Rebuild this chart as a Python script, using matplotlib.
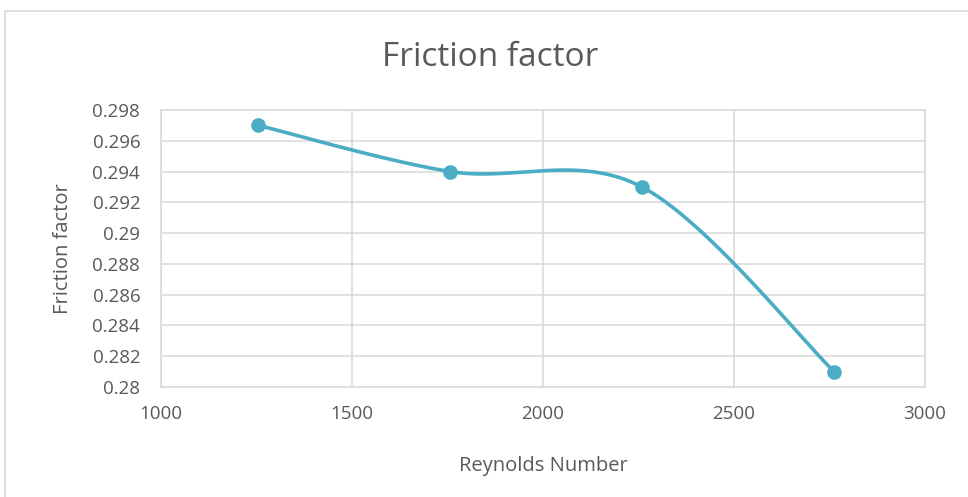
import matplotlib.pyplot as plt
import numpy as np
from matplotlib.patches import Rectangle

reynolds = [1255, 1757, 2259, 2762]
friction = [0.297, 0.294, 0.293, 0.281]

x_ticks = [1000, 1500, 2000, 2500, 3000]
y_ticks = [0.28, 0.282, 0.284, 0.286, 0.288, 0.29, 0.292, 0.294, 0.296, 0.298]
y_labels = ["0.28", "0.282", "0.284", "0.286", "0.288", "0.29", "0.292", "0.294", "0.296", "0.298"]

LINE = "#4BACC6"
TEXT = "#595959"
GRID = "#D9D9D9"

plt.rcParams["font.family"] = ["Open Sans", "DejaVu Sans"]


def smooth_curve(xs, ys, xlim, ylim, steps=60):
    # bezier segments with catmull-rom style handles, built in axes-fraction space
    px = (np.asarray(xs, float) - xlim[0]) / (xlim[1] - xlim[0])
    py = (np.asarray(ys, float) - ylim[0]) / (ylim[1] - ylim[0]) * 0.5
    pts = np.column_stack([px, py])
    n = len(pts)
    out = []
    t = np.linspace(0, 1, steps)[:, None]
    for i in range(n - 1):
        p0 = pts[max(i - 1, 0)]
        p1 = pts[i]
        p2 = pts[i + 1]
        p3 = pts[min(i + 2, n - 1)]
        c1 = p1 + (p2 - p0) / 6
        c2 = p2 - (p3 - p1) / 6
        seg = ((1 - t) ** 3) * p1 + 3 * ((1 - t) ** 2) * t * c1 + 3 * (1 - t) * t ** 2 * c2 + t ** 3 * p2
        out.append(seg)
    curve = np.vstack(out)
    cx = curve[:, 0] * (xlim[1] - xlim[0]) + xlim[0]
    cy = curve[:, 1] / 0.5 * (ylim[1] - ylim[0]) + ylim[0]
    return cx, cy


fig = plt.figure(figsize=(9.68, 4.97), dpi=100)
fig.patches.append(Rectangle((5 / 968, -0.1), 1.1, 1 - 11 / 497 + 0.1, transform=fig.transFigure,
                             fill=False, edgecolor=GRID, linewidth=1.2))

ax = fig.add_axes([161 / 968, 1 - 387 / 497, (925 - 161) / 968, (387 - 110) / 497])
xlim = (1000, 3000)
ylim = (0.28, 0.298)
ax.set_xlim(*xlim)
ax.set_ylim(*ylim)

cx, cy = smooth_curve(reynolds, friction, xlim, ylim)
ax.plot(cx, cy, color=LINE, linewidth=2.6, solid_capstyle="round", zorder=3, clip_on=False)
ax.plot(reynolds, friction, "o", color=LINE, markersize=9.5, zorder=4, clip_on=False)

ax.set_xticks(x_ticks)
ax.set_yticks(y_ticks)
ax.set_yticklabels(y_labels)
ax.grid(True, color=GRID, linewidth=1.1)
ax.set_axisbelow(True)
for side in ax.spines.values():
    side.set_color(GRID)
    side.set_linewidth(1.1)
ax.tick_params(length=0, labelsize=13.5, labelcolor=TEXT)
ax.tick_params(axis="x", pad=13)
ax.tick_params(axis="y", pad=15)

fig.text(490 / 968, 1 - 57 / 497, "Friction factor", fontsize=24, color=TEXT, ha="center", va="center")
ax.set_xlabel("Reynolds Number", fontsize=14.5, color=TEXT, labelpad=24)
ax.set_ylabel("Friction factor", fontsize=14.5, color=TEXT, labelpad=14)

fig.savefig("out.png", dpi=100)
